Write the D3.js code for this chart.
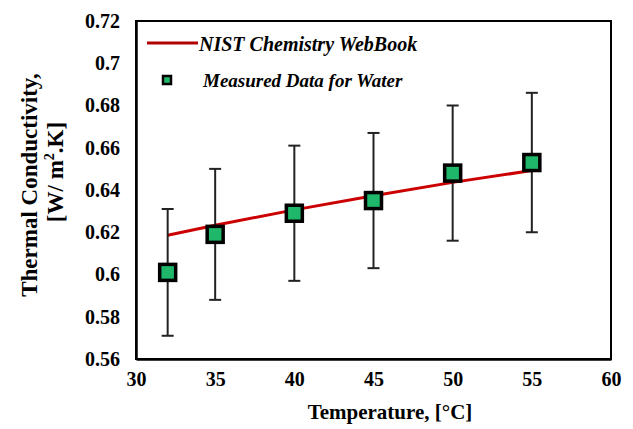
<!DOCTYPE html>
<html>
<head>
<meta charset="utf-8">
<script src="https://cdn.jsdelivr.net/npm/d3@7"></script>
<style>
  body { margin: 0; background: #fff; }
  svg { display: block; }
  text { font-family: "Liberation Serif", "Times New Roman", serif; font-weight: bold; fill: #000; }
</style>
</head>
<body>
<script>
// dati
const temperature = [32, 35, 40, 45, 50, 55];
const misurati = [0.601, 0.619, 0.629, 0.635, 0.648, 0.653];
const errori = [0.030, 0.031, 0.032, 0.032, 0.032, 0.033];
const nistTemp = [32, 35, 40, 45, 50, 55];
const nistValori = [0.6186, 0.6233, 0.6306, 0.6373, 0.6436, 0.6492];
const tickX = [30, 35, 40, 45, 50, 55, 60];
const tickY = [0.56, 0.58, 0.6, 0.62, 0.64, 0.66, 0.68, 0.7, 0.72];

const grafico = { sinistra: 136, destra: 611, alto: 21, basso: 359 };

const svg = d3.select("body").append("svg")
    .attr("width", 633)
    .attr("height", 429);

// scale
const scalaX = d3.scaleLinear().domain([30, 60]).range([grafico.sinistra, grafico.destra]);
const scalaY = d3.scaleLinear().domain([0.56, 0.72]).range([grafico.basso, grafico.alto]);

// cornice area grafico
svg.append("rect")
    .attr("x", grafico.sinistra)
    .attr("y", grafico.alto)
    .attr("width", grafico.destra - grafico.sinistra)
    .attr("height", grafico.basso - grafico.alto)
    .attr("fill", "none")
    .attr("stroke", "#000")
    .attr("stroke-width", 2);

// assi
const asseX = d3.axisBottom(scalaX).tickValues(tickX).tickSize(0).tickPadding(13).tickFormat(d3.format("d"));
svg.append("g")
    .attr("transform", `translate(0,${grafico.basso})`)
    .call(asseX)
    .attr("font-family", null)
    .attr("font-size", null)
    .call(g => g.select(".domain").attr("stroke-width", 2.5))
    .selectAll("text")
    .style("font-size", "20px");

const asseY = d3.axisLeft(scalaY).tickValues(tickY).tickSize(0).tickPadding(16).tickFormat(d => String(+d.toFixed(2)));
svg.append("g")
    .attr("transform", `translate(${grafico.sinistra},0)`)
    .call(asseY)
    .attr("font-family", null)
    .attr("font-size", null)
    .call(g => g.select(".domain").attr("stroke-width", 2.5))
    .selectAll("text")
    .style("font-size", "20px");

// linea NIST
const datiNist = nistTemp.map((t, i) => ({ t: t, v: nistValori[i] }));
const lineaNist = d3.line()
    .x(d => scalaX(d.t))
    .y(d => scalaY(d.v));

svg.append("path")
    .datum(datiNist)
    .attr("d", lineaNist)
    .attr("fill", "none")
    .attr("stroke", "#cc0000")
    .attr("stroke-width", 3);

// barre di errore
const datiMisurati = temperature.map((t, i) => ({ t: t, v: misurati[i], e: errori[i] }));
const barre = svg.append("g").attr("stroke", "#222").attr("stroke-width", 2);
barre.selectAll(".verticale").data(datiMisurati).enter().append("line")
    .attr("x1", d => scalaX(d.t)).attr("x2", d => scalaX(d.t))
    .attr("y1", d => scalaY(d.v - d.e)).attr("y2", d => scalaY(d.v + d.e));
barre.selectAll(".alto").data(datiMisurati).enter().append("line")
    .attr("x1", d => scalaX(d.t) - 6).attr("x2", d => scalaX(d.t) + 6)
    .attr("y1", d => scalaY(d.v + d.e)).attr("y2", d => scalaY(d.v + d.e));
barre.selectAll(".basso").data(datiMisurati).enter().append("line")
    .attr("x1", d => scalaX(d.t) - 6).attr("x2", d => scalaX(d.t) + 6)
    .attr("y1", d => scalaY(d.v - d.e)).attr("y2", d => scalaY(d.v - d.e));

// marcatori quadrati
svg.selectAll(".punto").data(datiMisurati).enter().append("rect")
    .attr("x", d => scalaX(d.t) - 8)
    .attr("y", d => scalaY(d.v) - 8)
    .attr("width", 16)
    .attr("height", 16)
    .attr("fill", "#1fb86a")
    .attr("stroke", "#000")
    .attr("stroke-width", 3.5);

// legenda
svg.append("line")
    .attr("x1", 147).attr("x2", 198)
    .attr("y1", 43).attr("y2", 43)
    .attr("stroke", "#b00000")
    .attr("stroke-width", 3);
svg.append("text")
    .attr("x", 199).attr("y", 51)
    .style("font-size", "20px")
    .style("font-style", "italic")
    .text("NIST Chemistry WebBook");
svg.append("rect")
    .attr("x", 163).attr("y", 76)
    .attr("width", 8).attr("height", 8)
    .attr("fill", "#1fb86a")
    .attr("stroke", "#000")
    .attr("stroke-width", 2.5);
svg.append("text")
    .attr("x", 203).attr("y", 87)
    .style("font-size", "19px")
    .style("font-style", "italic")
    .text("Measured Data for Water");

// titoli assi
svg.append("text")
    .attr("x", 390)
    .attr("y", 419)
    .attr("text-anchor", "middle")
    .style("font-size", "21px")
    .text("Temperature, [°C]");

const titoloY = svg.append("g").attr("transform", "translate(0,0) rotate(-90)");
titoloY.append("text")
    .attr("x", -185).attr("y", 37)
    .attr("text-anchor", "middle")
    .style("font-size", "23px")
    .text("Thermal Conductivity,");
const seconda = titoloY.append("text")
    .attr("x", -172).attr("y", 63)
    .attr("text-anchor", "middle")
    .style("font-size", "23px");
seconda.append("tspan").text("[W/ m");
seconda.append("tspan").attr("dy", -9).style("font-size", "14px").text("2");
seconda.append("tspan").attr("dy", 9).text(".K]");
</script>
</body>
</html>
